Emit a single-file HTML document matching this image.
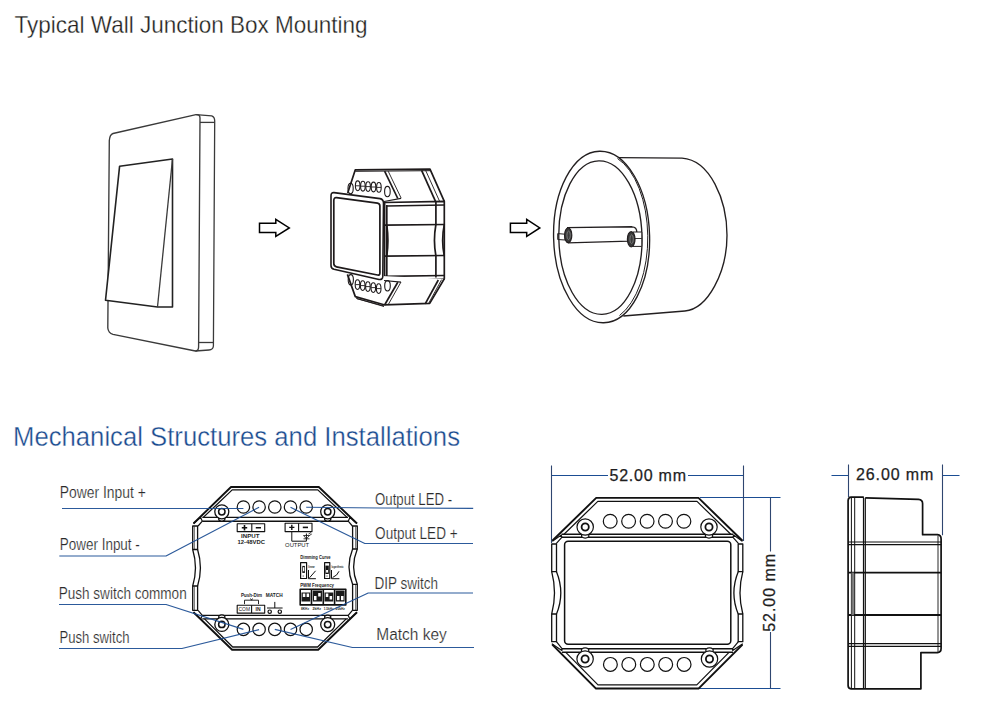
<!DOCTYPE html>
<html><head><meta charset="utf-8">
<style>
html,body{margin:0;padding:0;background:#fff;}
body{width:995px;height:713px;overflow:hidden;}
svg{display:block;}
text{font-family:"Liberation Sans",sans-serif;}
</style></head>
<body>
<svg width="995" height="713" viewBox="0 0 995 713">
<rect width="995" height="713" fill="#fff"/>
<!-- Titles -->
<text x="14.5" y="33.4" font-size="24" fill="#231f20" stroke="#fff" stroke-width="0.3" textLength="353" lengthAdjust="spacingAndGlyphs">Typical Wall Junction Box Mounting</text>
<text x="13" y="445.6" font-size="27" fill="#1a4b8f" stroke="#fff" stroke-width="0.35" textLength="447" lengthAdjust="spacingAndGlyphs">Mechanical Structures and Installations</text>

<!-- Switch plate -->
<g fill="none" stroke="#3a3a3a" stroke-width="1.3" stroke-linejoin="round">
  <!-- front face -->
  <path d="M113,133.5 L196,114.6 Q200,114.2 200,118 L198.6,347 Q198.5,351 195.4,351 L113,334.3 Q108.3,333 107.8,328 L109.3,140.5 Q109.8,134.5 113,133.5 Z" stroke-width="1.35"/>
  <!-- side face -->
  <path d="M196,114.6 L211.7,115.9 Q214.7,117 214.7,121 L213.4,346 Q213,349.7 209,350 L195.4,351"/>
  <path d="M200,122.4 L214.7,122.4"/>
  <path d="M198.6,342.5 L213.4,342.5"/>
  <!-- rocker -->
  <path d="M119.6,166.2 L172.5,159 L172.5,307 L157.5,307 L105.5,300.3 Z" stroke="#222" stroke-width="1.6" fill="#fff"/>
  <path d="M172.5,159 L157.5,307"/>
</g>


<!-- Module 3D -->
<g fill="none" stroke="#1e1a1b" stroke-width="1.7" stroke-linejoin="round">
  <!-- upper flange -->
  <path d="M347.7,192.9 L355.3,169.8 L430,169.2 L444.3,201.3" fill="#fff"/>
  <path d="M355.3,171.3 L430,170.7" stroke-width="1"/>
  <path d="M384.6,171.2 L397.8,198.5"/>
  <path d="M388.2,171.2 L401.2,198.2" stroke-width="0.9"/>
  <path d="M421.6,170.3 L435.5,201.3"/>
  <path d="M425.6,170.3 L439.6,201.3" stroke-width="0.9"/>
  <!-- holes upper -->
  <g stroke-width="1.1">
   <ellipse cx="357.7" cy="185.8" rx="2.3" ry="4.9"/>
   <ellipse cx="362.9" cy="186.2" rx="2.3" ry="4.9"/>
   <ellipse cx="368.1" cy="186.6" rx="2.3" ry="4.9"/>
   <ellipse cx="373.5" cy="187" rx="2.3" ry="4.9"/>
   <ellipse cx="378.9" cy="187.4" rx="2.3" ry="4.9"/>
   <ellipse cx="350.6" cy="188.5" rx="2.6" ry="5.2"/>
   <ellipse cx="387.4" cy="191.6" rx="2.8" ry="5.2"/>
   <path d="M355.6,185.8 H359.8 M360.8,186.2 H365 M366,186.6 H370.2 M371.4,187 H375.6 M376.8,187.4 H381" stroke-width="0.9"/>
  </g>
  <!-- side body -->
  <path d="M384.6,202.5 L444.3,201.3 L444.3,278.8 L384.6,279.6 Z" fill="#fff"/>
  <path d="M386.8,206 L444.3,205"/>
  <path d="M386.8,205 L386.8,276"/>
  <path d="M435.9,202 L435.9,224.5 Q433,240.5 435.9,256 L435.9,277.5"/>
  <path d="M444.3,224.5 Q441,240.5 444.3,256"/>
  <path d="M384.6,225.1 L444.3,224.5" stroke-width="1.7"/>
  <path d="M384.6,256.1 L444.3,255.5" stroke-width="1.7"/>
  <path d="M386.8,225 Q389,240.5 386.8,256"/>
  <path d="M384.6,276.3 L444.3,275.5"/>
  <!-- lower flange -->
  <path d="M347.4,274.4 L355.3,296.6 L384,304.8 L429.7,303.4 L444.3,278.8" fill="#fff"/>
  <path d="M397.8,282.3 L384.6,305"/>
  <path d="M401,282 L388,305" stroke-width="0.9"/>
  <path d="M438.3,280 L425.2,303.8"/>
  <path d="M441.6,279.6 L428.5,303.6" stroke-width="0.9"/>
  <path d="M356.5,298.5 L384,306.5" stroke-width="0.9"/>
  <g stroke-width="1.1">
   <ellipse cx="357.5" cy="284.6" rx="2.3" ry="4.9"/>
   <ellipse cx="362.7" cy="285.6" rx="2.3" ry="4.9"/>
   <ellipse cx="367.9" cy="286.6" rx="2.3" ry="4.9"/>
   <ellipse cx="373.3" cy="287.6" rx="2.3" ry="4.9"/>
   <ellipse cx="378.7" cy="288.6" rx="2.3" ry="4.9"/>
   <ellipse cx="350.8" cy="279.8" rx="2.6" ry="5.2"/>
   <ellipse cx="387.5" cy="285.8" rx="2.8" ry="5.2"/>
   <path d="M355.4,284.6 H359.6 M360.6,285.6 H364.8 M365.8,286.6 H370 M371.2,287.6 H375.4 M376.6,288.6 H380.8" stroke-width="0.9"/>
  </g>
  <path d="M384,201.5 L401,198.3 M384,280.5 L401,282.2" stroke-width="1.2"/>
  <path d="M356.5,298.5 L384,306" stroke-width="1"/>
  <!-- front face -->
  <path d="M334,192.6 L380,198.6 Q383.5,199.2 383.5,203 L382.8,276.5 Q382.6,280 379,279.5 L334,269.3 Q331,268.5 331,265.5 L331,196 Q331,192.3 334,192.6 Z" fill="#fff" stroke-width="1.6"/>
  <path d="M336.5,197.7 L377.5,203.2 Q379.9,203.6 379.9,206 L379.9,273 Q379.9,275.5 377.5,275 L336.5,266.8 Q333.8,266.2 333.8,263.5 L333.8,200.5 Q333.8,197.4 336.5,197.7 Z"/>
</g>

<!-- Round junction box -->
<g fill="none" stroke="#231f20" stroke-width="1.35">
  <path d="M618.8,157.6 L682,158.2 C710,160 727,200 727,235.3 C727,272 708,309 684.9,311 L623.3,316" fill="#fff"/>
  <ellipse cx="601.6" cy="237" rx="48" ry="85.8" transform="rotate(-1.4 601.6 237)" fill="#fff"/>
  <path d="M617.5,158.5 A45.4,84 0 0 1 619.5,315.5" stroke-width="1"/>
  <ellipse cx="600.4" cy="237.6" rx="41.6" ry="76.8" transform="rotate(-1.2 600.4 237.6)"/>
  <!-- rod -->
  <path d="M557.7,233.6 L565,234.2 L565,240 L557.7,239.5 Z" stroke-width="1"/>
  <path d="M567,227.7 L632,226.8 Q636.8,227 636.8,232 L636.8,240 L629.2,241.1 L567.8,242.8" fill="#fff"/>
  <path d="M633,232 L641.8,232 L641.8,246.4 L633,246.4 Z" fill="#fff" stroke-width="1"/>
  <path d="M633,238.5 L641.8,238.5" stroke-width="0.9"/>
  <ellipse cx="568.2" cy="235.3" rx="3.6" ry="7.4" fill="#3a3a3a" stroke-width="1.2"/>
  <ellipse cx="568.6" cy="235.3" rx="1.7" ry="4.2" fill="none" stroke="#888" stroke-width="0.8"/>
  <ellipse cx="631.2" cy="239.2" rx="3.8" ry="7.6" fill="#3a3a3a" stroke-width="1.2"/>
  <ellipse cx="631.6" cy="239.2" rx="1.7" ry="4.3" fill="none" stroke="#888" stroke-width="0.8"/>
</g>


<!-- ===== Mechanical: labels ===== -->
<g font-size="16" fill="#2a2a2a" stroke="#fff" stroke-width="0.2">
  <text x="59.8" y="498.1" textLength="86" lengthAdjust="spacingAndGlyphs">Power Input +</text>
  <text x="59.8" y="550.1" textLength="80" lengthAdjust="spacingAndGlyphs">Power Input -</text>
  <text x="58.7" y="598.8" textLength="128" lengthAdjust="spacingAndGlyphs">Push switch common</text>
  <text x="59.5" y="642.8" textLength="70" lengthAdjust="spacingAndGlyphs">Push switch</text>
  <text x="375.1" y="504.5" textLength="77" lengthAdjust="spacingAndGlyphs">Output LED -</text>
  <text x="375.1" y="539.3" textLength="82.5" lengthAdjust="spacingAndGlyphs">Output LED +</text>
  <text x="374.5" y="588.7" textLength="63.5" lengthAdjust="spacingAndGlyphs">DIP switch</text>
  <text x="376.3" y="639.7" textLength="70.5" lengthAdjust="spacingAndGlyphs">Match key</text>
</g>

<!-- ===== Left device ===== -->
<g fill="none" stroke="#111" stroke-width="1.3" stroke-linejoin="round">
  <!-- outer outline -->
  <path d="M193.5,523.5 L231,487 L318.8,487 L357,523.5" stroke-width="1.9"/>
  <path d="M193.5,612.3 L232.1,649.8 L318.2,649.8 L357,612.3" stroke-width="1.9"/>
  <path d="M203.3,517.4 L232.2,489.9 L317.8,489.9 L347.1,517.4"/>
  <path d="M204.5,618.9 L232.7,647 L317.6,647 L346.2,618.9"/>
  <path d="M202.3,517.4 L348,517.4 M202.3,521.2 L348,521.2" stroke-width="1.4"/>
  <path d="M193.5,523.5 L200.6,517.4 L202.3,521.2 L198.1,526 M357,523.5 L349.9,517.4 L348.2,521.2 L352.4,526" stroke-width="1.2"/>
  <path d="M202.3,615.4 L348,615.4 M202.3,618.9 L348,618.9" stroke-width="1.4"/>
  <path d="M193.5,612.3 L200.6,618.9 L202.3,615.4 L198.1,610.3 M357,612.3 L349.9,618.9 L348.2,615.4 L352.4,610.3" stroke-width="1.2"/>
  <!-- walls -->
  <path d="M192.7,526 H197.6 V549.5 H192.7 Z M192.7,586 H197.6 V610.3 H192.7 Z" stroke-width="1.3"/>
  <path d="M192.7,549.5 Q198.2,567.7 192.7,586 M197.6,549.5 Q203.2,567.7 197.6,586" stroke-width="1.3"/>
  <path d="M194.4,526.5 V549 M194.4,586.5 V610" stroke-width="0.6"/>
  <path d="M357.3,526 H352.6 V549 H357.3 Z M357.3,584.3 H352.6 V610.3 H357.3 Z" stroke-width="1.3"/>
  <path d="M357.3,549 Q350,566.6 357.3,584.3 M352.6,549 Q345.5,566.6 352.6,584.3" stroke-width="1.3"/>
  <path d="M355.6,526.5 V548.5 M355.6,584.8 V610" stroke-width="0.6"/>
  <!-- mount holes -->
  <g fill="#fff">
    <path d="M218.8,516.0 L218.8,520.1 Q221.8,522.4 224.8,520.1 L224.8,516.0"/>
    <circle cx="221.8" cy="511.8" r="7.0"/><circle cx="221.8" cy="511.8" r="3.2" stroke-width="1.5"/>
    <path d="M324.7,516.0 L324.7,520.1 Q327.7,522.4 330.7,520.1 L330.7,516.0"/>
    <circle cx="327.7" cy="511.8" r="7.0"/><circle cx="327.7" cy="511.8" r="3.2" stroke-width="1.5"/>
    <path d="M218.8,620.2 L218.8,616.1 Q221.8,613.8 224.8,616.1 L224.8,620.2"/>
    <circle cx="221.8" cy="624.4" r="7.0"/><circle cx="221.8" cy="624.4" r="3.2" stroke-width="1.5"/>
    <path d="M324.7,620.4 L324.7,616.3 Q327.7,614.0 330.7,616.3 L330.7,620.4"/>
    <circle cx="327.7" cy="624.6" r="7.0"/><circle cx="327.7" cy="624.6" r="3.2" stroke-width="1.5"/>
  </g>
  <!-- terminals -->
  <g stroke-width="1.2">
    <circle cx="243.4" cy="507" r="6.2"/><circle cx="259.1" cy="507" r="6.2"/><circle cx="274.8" cy="507" r="6.2"/><circle cx="290.5" cy="507" r="6.2"/><circle cx="306.2" cy="507" r="6.2"/>
    <circle cx="243.4" cy="629.4" r="6.2"/><circle cx="259.1" cy="629.4" r="6.2"/><circle cx="274.8" cy="629.4" r="6.2"/><circle cx="290.5" cy="629.4" r="6.2"/><circle cx="306.2" cy="629.4" r="6.2"/>
  </g>
  <!-- INPUT box -->
  <rect x="237.2" y="523.8" width="27.5" height="7.8" stroke-width="1.1"/>
  <path d="M251.8,523.8 V531.6" stroke-width="1.1"/>
  <path d="M241.8,527.7 H247.2 M244.5,525 V530.4 M255.8,527.7 H261" stroke-width="1.6"/>
  <!-- OUTPUT box -->
  <rect x="285.1" y="523.2" width="26.9" height="8.4" stroke-width="1.1"/>
  <path d="M298.6,523.2 V531.6" stroke-width="1.1"/>
  <path d="M289.2,527.4 H294.4 M291.8,524.8 V530" stroke-width="1.4"/>
  <path d="M302.8,527.4 H308" stroke-width="1.6"/>
  <path d="M291.8,531.6 V541.2 H306.4 V533.5" stroke-width="1"/>
  <path d="M303.5,535.5 H309.5 L306.4,538.8 Z M303.5,538.8 H309.5 M308.5,534 L311,532.5 M309.3,535.5 L311.8,534" stroke-width="0.8"/>
  <!-- COM IN box -->
  <rect x="237.2" y="605.3" width="27.5" height="7.8" stroke-width="1.1"/>
  <path d="M251.6,605.3 V613.1" stroke-width="1.1"/>
  <path d="M244.5,604.1 V600.2 H258.5 V604.1 M250.5,598.5 L251.5,600.2 L252.5,598.5" stroke-width="0.9"/>
  <!-- MATCH symbol -->
  <path d="M274.8,601.9 V608 M267,608 H282.6" stroke-width="1"/>
  <circle cx="269.7" cy="611.7" r="1.7" stroke-width="1.2"/><circle cx="279.8" cy="611.7" r="1.7" stroke-width="1.2"/>
  <!-- dimming curve switches -->
  <rect x="300.6" y="562.7" width="6" height="15.8" stroke-width="1.2"/>
  <rect x="302.3" y="565.9" width="2.6" height="7" fill="#111" stroke="none"/>
  <rect x="303" y="567.2" width="1.3" height="4.1" fill="#fff" stroke="none"/>
  <path d="M303.2,575.2 V577" stroke-width="0.5"/>
  <path d="M308.5,570 V578.7 H315.9 M309.5,577.8 L315.6,570.8" stroke-width="1"/>
  <rect x="324.6" y="562.7" width="5.2" height="15.8" stroke-width="1.2"/>
  <rect x="325.4" y="565.6" width="3.4" height="8.4" fill="#111" stroke="none"/>
  <rect x="326.1" y="570" width="1.9" height="2.6" fill="#fff" stroke="none"/>
  <path d="M327,575.2 V577" stroke-width="0.5"/>
  <path d="M331.5,570 V578.7 H339.4 M332.6,577.5 Q337.5,575.5 339,571.3" stroke-width="1"/>
  <!-- DIP block -->
  <rect x="300.2" y="589.2" width="45.6" height="15.7" stroke-width="1.6"/>
  <path d="M311.5,589.2 V604.9 M323.3,589.2 V604.9 M334.6,589.2 V604.9" stroke-width="1.6"/>
  <g fill="#1a1a1a" stroke="none">
    <rect x="301.5" y="592.5" width="8.8" height="9"/>
    <rect x="312.8" y="590.5" width="9.3" height="11"/>
    <rect x="324.5" y="592.5" width="8.8" height="9"/>
    <rect x="335.8" y="590.5" width="8.8" height="11"/>
  </g>
  <g fill="#fff" stroke="none">
    <rect x="302.8" y="593.5" width="2.5" height="3.5"/><rect x="306.6" y="593.5" width="2.5" height="3.5"/>
    <rect x="314" y="596" width="2.5" height="4.2"/><rect x="318.2" y="593" width="2.5" height="3.5"/>
    <rect x="325.8" y="593.5" width="2.5" height="3.5"/><rect x="329.6" y="596" width="2.5" height="3.5"/>
    <rect x="337" y="596" width="2.5" height="4.2"/><rect x="341" y="596" width="2.5" height="4.2"/>
  </g>
</g>
<g font-family="Liberation Sans" font-weight="bold" fill="#222">
  <text x="241.1" y="537.6" font-size="5.6" textLength="18.3" lengthAdjust="spacingAndGlyphs">INPUT</text>
  <text x="237.6" y="543.8" font-size="5.6" textLength="27.4" lengthAdjust="spacingAndGlyphs">12-48VDC</text>
  <text x="300.3" y="558.7" font-size="4.8" textLength="30.3" lengthAdjust="spacingAndGlyphs">Dimming Curve</text>
  <text x="308.3" y="568.2" font-size="3.8" textLength="6.5" lengthAdjust="spacingAndGlyphs">linear</text>
  <text x="331.5" y="568.2" font-size="3.8" textLength="12.1" lengthAdjust="spacingAndGlyphs">logarithmic</text>
  <text x="300.2" y="586.7" font-size="4.8" textLength="33.8" lengthAdjust="spacingAndGlyphs">PWM Frequency</text>
  <text x="301" y="610.4" font-size="3.8" textLength="8" lengthAdjust="spacingAndGlyphs">8KHz</text>
  <text x="312.5" y="610.4" font-size="3.8" textLength="8.5" lengthAdjust="spacingAndGlyphs">2kHz</text>
  <text x="323.8" y="610.4" font-size="3.8" textLength="9.6" lengthAdjust="spacingAndGlyphs">1.5kHz</text>
  <text x="335.6" y="610.4" font-size="3.8" textLength="9.4" lengthAdjust="spacingAndGlyphs">20kHz</text>
  <text x="241" y="596.8" font-size="5" textLength="21" lengthAdjust="spacingAndGlyphs">Push-Dim</text>
  <text x="265.8" y="596.8" font-size="5" textLength="16.8" lengthAdjust="spacingAndGlyphs">MATCH</text>
  <text x="238.5" y="611.4" font-size="5" font-weight="normal" textLength="11.5" lengthAdjust="spacingAndGlyphs">COM</text>
  <text x="255.5" y="611.4" font-size="5" textLength="5" lengthAdjust="spacingAndGlyphs">IN</text>
</g>
<text x="285.1" y="547.3" font-size="5.6" fill="#1a1a1a" textLength="24" lengthAdjust="spacingAndGlyphs">OUTPUT</text>

<!-- leader lines -->
<g fill="none" stroke="#1b4d93" stroke-width="1.15" stroke-linejoin="round" opacity="0.92">
  <path d="M62,508.5 L243.4,508.5"/>
  <path d="M59.3,556 L166,556 L259.1,507.2"/>
  <path d="M59,604.5 L166.1,604.5 L243.4,629.4"/>
  <path d="M59,648.5 L181.9,648.5 L259.1,629.6"/>
  <path d="M306.2,507.2 L380,508 L473.2,508.4"/>
  <path d="M290.5,507.3 L364.8,543.5 L473,543.5"/>
  <path d="M290.5,629.4 L368.2,593 L473,593"/>
  <path d="M274.8,629.4 L352.4,647.5 L474,647.5"/>
</g>


<!-- ===== Middle device ===== -->
<g fill="none" stroke="#1b4d93" stroke-width="1.1">
  <path d="M551.5,475.5 H608 M688,475.5 H743.5 M700,497.5 H780.5 M698,688.5 H780.5 M831.5,475.5 H848.5 M942.5,475.5 H959.5"/>
</g>
<g fill="none" stroke="#2f4670" stroke-width="1.1">
  <path d="M551.5,465.5 V543 M743.5,465.5 V541 M770.5,497.5 V551.5 M770.5,632 V688.5 M848.5,464.5 V497 M942.5,464.5 V535.2"/>
</g>
<g font-size="16" fill="#1e1e1e" stroke="#1e1e1e" stroke-width="0.25">
  <text x="609.5" y="480.9" textLength="76.5" lengthAdjust="spacing">52.00 mm</text>
  <text x="856" y="480" textLength="77.4" lengthAdjust="spacing">26.00 mm</text>
  <text transform="translate(775.2,631.8) rotate(-90)" x="0" y="0" textLength="78" lengthAdjust="spacing">52.00 mm</text>
</g>
<g fill="none" stroke="#111" stroke-width="1.2" stroke-linejoin="round">
  <path d="M552.3,540.8 L596.2,497.9 L698.5,497.9 L742.5,540.8" stroke-width="1.9"/>
  <path d="M552.3,644.6 L596,688.6 L698.5,688.6 L742.5,644.6" stroke-width="2"/>
  <path d="M564,534.3 L597.8,501.4 L697,501.4 L730.8,534.3"/>
  <path d="M565.8,652.4 L598,684.9 L696.8,684.9 L729,652.4"/>
  <path d="M561.5,534.3 L733.2,534.3 M561.5,537.3 L733.2,537.3" stroke-width="1.5"/>
  <path d="M552.3,541.3 L561.3,535.1 L561.8,537.4 L556.2,543.6 M742.5,541.3 L733.5,535.1 L733,537.4 L738.6,543.6" stroke-width="1.2"/>
  <path d="M562,648.7 L733,648.7 M562,652.3 L733,652.3" stroke-width="1.5"/>
  <path d="M551.8,643.7 L561.9,650.5 L562,648.7 L556.4,641.7 M742.8,643.7 L732.7,650.5 L732.6,648.7 L738.4,641.7" stroke-width="1.2"/>
  <path d="M551.7,544 H556.5 V571.7 H551.7 Z M551.7,614 H556.5 V641.7 H551.7 Z" stroke-width="1.3"/>
  <path d="M551.7,571.7 Q557.3,592.9 551.7,614 M556.5,571.7 Q565.1,592.9 556.5,614" stroke-width="1.3"/>
  <path d="M742.8,544 H738.2 V571.7 H742.8 Z M742.8,614 H738.2 V641.7 H742.8 Z" stroke-width="1.3"/>
  <path d="M742.8,571.7 Q737.2,592.9 742.8,614 M738.2,571.7 Q729.6,592.9 738.2,614" stroke-width="1.3"/>
  <rect x="564.6" y="541.3" width="166.2" height="103" rx="3.5" stroke-width="1.5"/>
  <g fill="#fff">
    <path d="M581.6,532.1 L581.6,536.8 Q585.2,539.5 588.8,536.8 L588.8,532.1"/>
    <circle cx="585.2" cy="527" r="8.2"/><circle cx="585.2" cy="527" r="3.6" stroke-width="1.8"/>
    <path d="M705.4,532.1 L705.4,536.8 Q709.0,539.5 712.6,536.8 L712.6,532.1"/>
    <circle cx="709" cy="527" r="8.2"/><circle cx="709" cy="527" r="3.6" stroke-width="1.8"/>
    <path d="M581.5,653.9 L581.5,649.2 Q585.1,646.5 588.7,649.2 L588.7,653.9"/>
    <circle cx="585.1" cy="659" r="8.2"/><circle cx="585.1" cy="659" r="3.6" stroke-width="1.8"/>
    <path d="M705.9,653.9 L705.9,649.2 Q709.5,646.5 713.1,649.2 L713.1,653.9"/>
    <circle cx="709.5" cy="659" r="8.2"/><circle cx="709.5" cy="659" r="3.6" stroke-width="1.8"/>
  </g>
  <circle cx="610.2" cy="521.2" r="6.9"/><circle cx="628.6" cy="521.2" r="6.9"/><circle cx="647.1" cy="521.2" r="6.9"/><circle cx="665.5" cy="521.2" r="6.9"/><circle cx="683.9" cy="521.2" r="6.9"/>
  <circle cx="610.4" cy="664.4" r="6.9"/><circle cx="628.8" cy="664.4" r="6.9"/><circle cx="647.3" cy="664.4" r="6.9"/><circle cx="665.7" cy="664.4" r="6.9"/><circle cx="684.1" cy="664.4" r="6.9"/>
</g>

<!-- ===== Side device ===== -->
<g fill="none" stroke="#111" stroke-width="1.3" stroke-linejoin="round">
  <path d="M851,497.2 L863.8,497.2 M865.2,497.9 L918.5,499.3 Q922.6,499.8 922.6,503.5 L922.6,534.7 L937.5,534.7 Q941.1,535.2 941.1,539 L941.1,648.5 Q941.1,652.4 937.5,652.6 L920.9,652.6 L920.9,688.8 L851,688.8 Q848.1,688.5 848.1,685.5 L848.1,500.5 Q848.3,497.4 851,497.2" stroke-width="1.7"/>
  <path d="M851.4,498 V688 M854.7,498 V688" stroke-width="1"/>
  <path d="M863.5,497.2 V688.8 M865.3,497.9 V688.8" stroke-width="1.2"/>
  <path d="M848.1,542 H941.1 M848.1,544.6 H941.1" stroke-width="1.2"/>
  <path d="M848.1,572.6 H941.1" stroke-width="1.8"/>
  <path d="M848.1,615 H941.1" stroke-width="1.8"/>
  <path d="M848.1,643.6 H941.1 M848.1,646.3 H941.1" stroke-width="1.2"/>
  <path d="M938,535.5 V652" stroke-width="0.9"/>
  <path d="M852.7,572.5 V615.3" stroke="#777" stroke-width="2.4"/>
</g>

<!-- arrows -->
<g fill="#fff" stroke="#000" stroke-width="1.5" stroke-linejoin="miter">
  <path d="M259.5,223.2 L275.8,223.2 L275.8,219.3 L289.3,227.9 L275.8,236.4 L275.8,232.5 L259.5,232.5 Z"/>
  <path d="M510.4,223.2 L526.7,223.2 L526.7,219.3 L539.8,227.9 L526.7,236.4 L526.7,232.5 L510.4,232.5 Z"/>
</g>
</svg>
</body></html>
